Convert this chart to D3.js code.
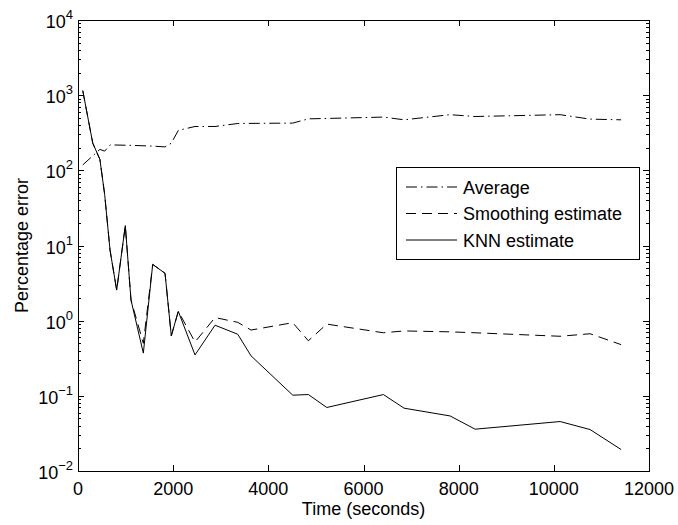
<!DOCTYPE html>
<html>
<head>
<meta charset="utf-8">
<script src="https://cdn.jsdelivr.net/npm/d3@7"></script>
<style>
  body { margin: 0; background: white; }
  text { font-family: "Liberation Sans", Arial, Helvetica, sans-serif; fill: black; }
</style>
</head>
<body>
<div id="container"></div>
<script>
let w = 678;
let h = 525;
let margin = {left: 78, right: 29, top: 20, bottom: 54};

// data
let knnTime = [100, 310, 460, 560, 673, 813, 994, 1114, 1373, 1570, 1829, 1961, 2108, 2459, 2880, 3357, 3637, 4513, 4841, 5228, 6418, 6853, 7820, 8345, 10132, 10762, 11414];
let knnError = [1150, 230, 140, 48, 8.7, 2.55, 18.4, 1.88, 0.37, 5.6, 4.27, 0.63, 1.33, 0.35, 0.87, 0.66, 0.34, 0.102, 0.104, 0.070, 0.104, 0.0685, 0.054, 0.036, 0.0455, 0.0356, 0.0193];

let smoothTime = [100, 310, 460, 560, 673, 813, 994, 1114, 1373, 1570, 1829, 1961, 2108, 2459, 2880, 3357, 3637, 4513, 4841, 5228, 6418, 6853, 7820, 8345, 10132, 10762, 11414];
let smoothError = [1150, 230, 140, 48, 8.7, 2.55, 18.4, 1.88, 0.5, 5.6, 4.27, 0.63, 1.33, 0.52, 1.1, 0.95, 0.75, 0.94, 0.54, 0.9, 0.69, 0.73, 0.71, 0.69, 0.62, 0.67, 0.48];

let avgTime = [100, 460, 560, 673, 1114, 1570, 1829, 1961, 2108, 2459, 2880, 3357, 4513, 4841, 5228, 6418, 6853, 7820, 8345, 10132, 10762, 11414];
let avgError = [118, 190, 180, 218, 215, 210, 205, 230, 340, 383, 383, 420, 425, 484, 490, 511, 470, 550, 520, 550, 480, 470];

let xTicks = [0, 2000, 4000, 6000, 8000, 10000, 12000];
let yExponents = [-2, -1, 0, 1, 2, 3, 4];

let series = [
  {name: "Average", t: avgTime, v: avgError, dash: "11,4,1.5,4"},
  {name: "Smoothing estimate", t: smoothTime, v: smoothError, dash: "10,6"},
  {name: "KNN estimate", t: knnTime, v: knnError, dash: null}
];

let x = d3.scaleLinear().domain([0, 12000]).range([margin.left, w - margin.right]);
let y = d3.scaleLog().domain([1e-2, 1e4]).range([h - margin.bottom, margin.top]);

let viz = d3.select("#container")
  .append("svg")
    .attr("width", w)
    .attr("height", h)
    .style("background-color", "white");

let x0 = margin.left, x1 = w - margin.right, y0 = h - margin.bottom, y1 = margin.top;

// lines
let line = d3.line().x(d => x(d[0])).y(d => y(d[1]));
viz.selectAll("path.series")
  .data(series)
  .enter()
  .append("path")
    .attr("class", "series")
    .attr("d", s => line(s.t.map((t, i) => [t, s.v[i]])))
    .attr("fill", "none")
    .attr("stroke", "black")
    .attr("stroke-width", 1)
    .attr("stroke-dasharray", s => s.dash);

// axis box
viz.append("rect")
  .attr("x", x0 + 0.5).attr("y", y1 + 0.5)
  .attr("width", x1 - x0).attr("height", y0 - y1)
  .attr("fill", "none").attr("stroke", "black").attr("stroke-width", 1);

// x ticks (inside, bottom and top)
xTicks.forEach(function(t){
  let px = Math.round(x(t)) + 0.5;
  viz.append("line").attr("x1", px).attr("x2", px).attr("y1", y0).attr("y2", y0 - 6).attr("stroke", "black");
  viz.append("line").attr("x1", px).attr("x2", px).attr("y1", y1).attr("y2", y1 + 6).attr("stroke", "black");
  viz.append("text")
    .attr("x", x(t)).attr("y", y0 + 24)
    .attr("text-anchor", "middle")
    .style("font-size", "18px")
    .text(t);
});

// y ticks (log, major + minor, left and right)
yExponents.forEach(function(e){
  let py = Math.round(y(Math.pow(10, e))) + 0.5;
  viz.append("line").attr("x1", x0).attr("x2", x0 + 6).attr("y1", py).attr("y2", py).attr("stroke", "black");
  viz.append("line").attr("x1", x1).attr("x2", x1 - 6).attr("y1", py).attr("y2", py).attr("stroke", "black");
  let lab = viz.append("text")
    .attr("x", x0 - 5).attr("y", y(Math.pow(10, e)) + 8)
    .attr("text-anchor", "end")
    .style("font-size", "18px");
  lab.append("tspan").text("10");
  lab.append("tspan").attr("dy", -9).style("font-size", "13px").text(e < 0 ? "\u2212" + (-e) : e);
  if (e < 4) {
    for (let m = 2; m <= 9; m++) {
      let my = Math.round(y(m * Math.pow(10, e))) + 0.5;
      viz.append("line").attr("x1", x0).attr("x2", x0 + 3).attr("y1", my).attr("y2", my).attr("stroke", "black");
      viz.append("line").attr("x1", x1).attr("x2", x1 - 3).attr("y1", my).attr("y2", my).attr("stroke", "black");
    }
  }
});

// axis titles
viz.append("text")
  .attr("x", (x0 + x1) / 2).attr("y", y0 + 44)
  .attr("text-anchor", "middle")
  .style("font-size", "18px")
  .text("Time (seconds)");

viz.append("text")
  .attr("transform", "translate(28," + ((y0 + y1) / 2) + ") rotate(-90)")
  .attr("text-anchor", "middle")
  .style("font-size", "18px")
  .text("Percentage error");

// legend
let lg = viz.append("g").attr("transform", "translate(396,167)");
lg.append("rect")
  .attr("x", 0.5).attr("y", 0.5).attr("width", 243).attr("height", 92)
  .attr("fill", "white").attr("stroke", "black");
series.forEach(function(s, i){
  let ly = 20 + i * 26.5;
  lg.append("line")
    .attr("x1", 10).attr("x2", 61).attr("y1", ly).attr("y2", ly)
    .attr("stroke", "black").attr("stroke-dasharray", s.dash);
  lg.append("text")
    .attr("x", 67).attr("y", ly + 6.5)
    .style("font-size", "18px")
    .text(s.name);
});
</script>
</body>
</html>
